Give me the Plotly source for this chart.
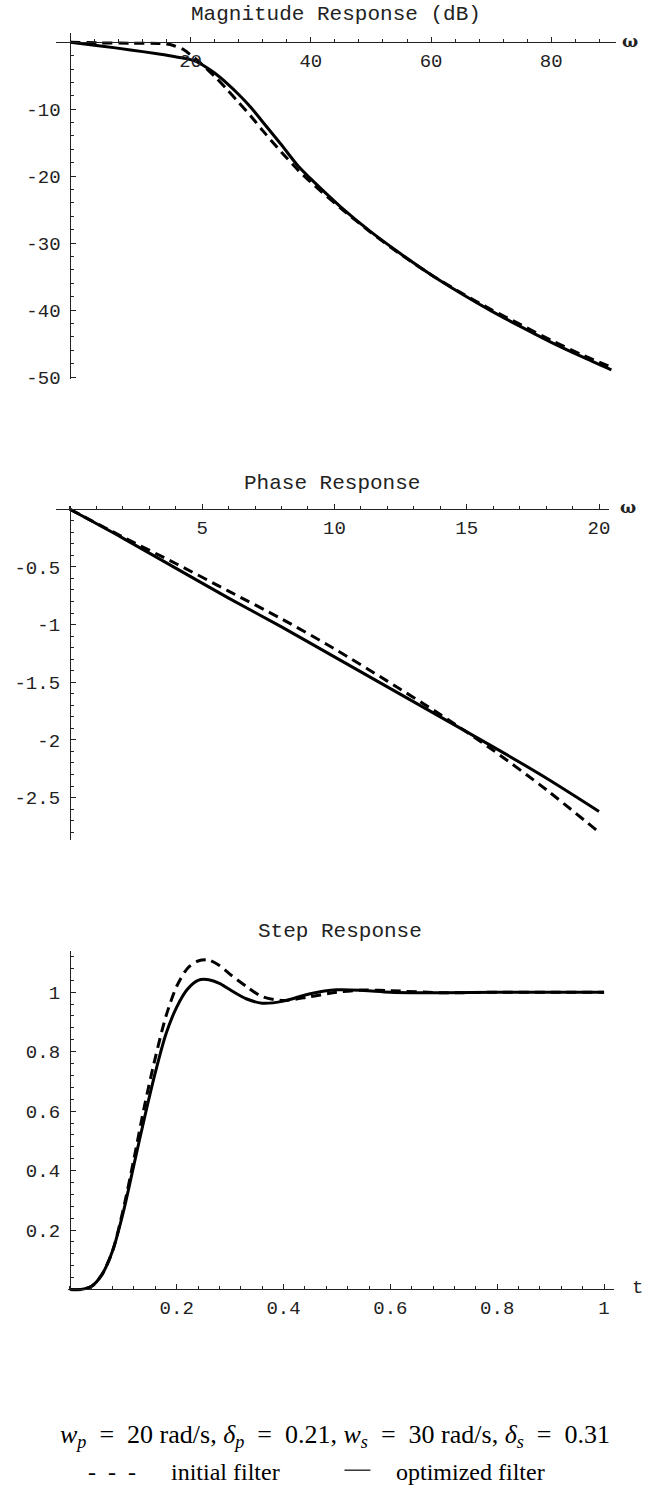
import plotly.graph_objects as go

# ---------------- data ----------------
mag_w = [0, 5, 10, 15, 17, 19, 20, 21, 22, 24, 26, 28, 30, 32, 35, 38, 40, 45, 50, 55, 60, 65, 70, 75, 80, 85, 90]
mag_opt = [0, -0.55, -1.15, -1.8, -2.1, -2.4, -2.6, -2.9, -3.4, -4.6, -6.1, -7.8, -9.7, -11.9, -15.2, -18.6,
           -20.4, -24.6, -28.3, -31.6, -34.7, -37.5, -40.1, -42.5, -44.8, -46.9, -48.9]
mag_init = [0, -0.1, -0.15, -0.2, -0.45, -1.2, -1.9, -2.6, -3.4, -5.1, -7.0, -9.0, -11.0, -13.2, -16.3, -19.2,
            -20.9, -24.8, -28.4, -31.7, -34.7, -37.4, -39.9, -42.2, -44.5, -46.6, -48.5]

ph_w = [0, 2, 4, 6, 8, 10, 12, 14, 16, 18, 20]
ph_opt = [0, -0.25, -0.51, -0.77, -1.02, -1.28, -1.54, -1.80, -2.06, -2.33, -2.62]
ph_init = [0, -0.24, -0.47, -0.71, -0.95, -1.21, -1.49, -1.78, -2.09, -2.43, -2.80]

st_t = [0, 0.02, 0.04, 0.06, 0.08, 0.10, 0.12, 0.14, 0.16, 0.18, 0.20, 0.22, 0.24, 0.26, 0.28, 0.30,
        0.33, 0.36, 0.40, 0.45, 0.50, 0.55, 0.60, 0.70, 0.80, 0.90, 1.0]
st_opt = [0, 0.0, 0.01, 0.05, 0.13, 0.26, 0.42, 0.58, 0.73, 0.86, 0.95, 1.01, 1.04, 1.042, 1.03, 1.008,
          0.978, 0.963, 0.97, 0.995, 1.008, 1.006, 1.0, 0.998, 1.0, 1.0, 1.0]
st_init = [0, 0.0, 0.01, 0.05, 0.13, 0.27, 0.44, 0.62, 0.78, 0.92, 1.02, 1.08, 1.105, 1.108, 1.09, 1.06,
           1.02, 0.985, 0.972, 0.985, 1.0, 1.007, 1.005, 0.998, 1.0, 1.0, 1.0]

mag_xticks = [20, 40, 60, 80]
mag_xtext = ["20", "40", "60", "80"]
mag_yticks = [-10, -20, -30, -40, -50]
mag_ytext = ["-10", "-20", "-30", "-40", "-50"]
ph_xticks = [5, 10, 15, 20]
ph_xtext = ["5", "10", "15", "20"]
ph_yticks = [-0.5, -1, -1.5, -2, -2.5]
ph_ytext = ["-0.5", "-1", "-1.5", "-2", "-2.5"]
st_xticks = [0.2, 0.4, 0.6, 0.8, 1.0]
st_xtext = ["0.2", "0.4", "0.6", "0.8", "1"]
st_yticks = [0.2, 0.4, 0.6, 0.8, 1.0]
st_ytext = ["0.2", "0.4", "0.6", "0.8", "1"]

titles = ["Magnitude Response (dB)", "Phase Response", "Step Response"]
EQ = "\u2002=\u2002"
formula = ("<i>w</i><sub><i>p</i></sub>" + EQ + "20 rad/s, <i>δ</i><sub><i>p</i></sub>" + EQ + "0.21, "
           "<i>w</i><sub><i>s</i></sub>" + EQ + "30 rad/s, <i>δ</i><sub><i>s</i></sub>" + EQ + "0.31")
legend_init = "initial filter"
legend_opt = "optimized filter"

# ---------------- layout helpers (pixel geometry) ----------------
W, H = 651, 1504
MONO = "Liberation Mono, Courier New, monospace"
SERIF = "Liberation Serif, Times New Roman, serif"
INK = "#222"


def px_x(p):
    return p / W


def px_y(p):
    return 1 - p / H


def xaxis(dom_px, rng, pos_px, tv, tt, minor_dt):
    return dict(domain=[px_x(dom_px[0]), px_x(dom_px[1])], range=rng, anchor="free",
                position=px_y(pos_px), showline=True, linecolor=INK, linewidth=1,
                ticks="inside", ticklen=5, tickwidth=1, tickcolor=INK,
                tickvals=tv, ticktext=tt, showgrid=False, zeroline=False,
                tickfont=dict(family=MONO, size=19, color=INK), ticklabelstandoff=1,
                minor=dict(tickmode="linear", tick0=0, dtick=minor_dt, ticks="inside",
                           ticklen=3, tickwidth=1, tickcolor=INK, showgrid=False))


def yaxis(dom_px, rng, pos_px, tv, tt, minor_dt):
    return dict(domain=[px_y(dom_px[1]), px_y(dom_px[0])], range=rng, anchor="free",
                position=px_x(pos_px), showline=True, linecolor=INK, linewidth=1,
                ticks="inside", ticklen=5, tickwidth=1, tickcolor=INK,
                tickvals=tv, ticktext=tt, showgrid=False, zeroline=False,
                tickfont=dict(family=MONO, size=19, color=INK), ticklabelstandoff=6,
                minor=dict(tickmode="linear", tick0=0, dtick=minor_dt, ticks="inside",
                           ticklen=3, tickwidth=1, tickcolor=INK, showgrid=False))


fig = go.Figure()

LW = 3
DASH = "10px,6px"

for xs, ys, dash, xa, ya in [
    (mag_w, mag_init, DASH, "x", "y"), (mag_w, mag_opt, "solid", "x", "y"),
    (ph_w, ph_init, DASH, "x2", "y2"), (ph_w, ph_opt, "solid", "x2", "y2"),
    (st_t, st_init, DASH, "x3", "y3"), (st_t, st_opt, "solid", "x3", "y3"),
]:
    fig.add_trace(go.Scatter(x=xs, y=ys, mode="lines", xaxis=xa, yaxis=ya, showlegend=False,
                             hoverinfo="skip",
                             line=dict(color="black", width=LW, dash=dash, shape="spline",
                                       smoothing=0.8)))

fig.update_layout(
    width=W, height=H, margin=dict(l=0, r=0, t=0, b=0), autosize=False,
    paper_bgcolor="white", plot_bgcolor="white", showlegend=False,
    xaxis=xaxis((56, 617), [-2.41, 90.78], 42.5, mag_xticks, mag_xtext, 4),
    yaxis=yaxis((33, 382), [-50.3, 1.41], 70.5, mag_yticks, mag_ytext, 2),
    xaxis2=xaxis((56, 610), [-0.528, 20.38], 513, ph_xticks, ph_xtext, 1),
    yaxis2=yaxis((510, 846), [-2.866, 0.026], 70.0, ph_yticks, ph_ytext, 0.1),
    xaxis3=xaxis((68, 615), [-0.0037, 1.0187], 1299, st_xticks, st_xtext, 0.04),
    yaxis3=yaxis((958, 1301), [-0.0067, 1.1386], 70.0, st_yticks, st_ytext, 0.04),
)

ann = []
for t, cx, cy in zip(titles, [337, 333, 341], [15, 487, 938]):
    ann.append(dict(text=t, x=px_x(cx), y=px_y(cy), xref="paper", yref="paper", showarrow=False,
                    xanchor="center", yanchor="middle", font=dict(family=MONO, size=21, color=INK)))
for t, cx, cy, fam, sz in [("<b>ω</b>", 631, 41, "DejaVu Serif", 17), ("<b>ω</b>", 629, 511, "DejaVu Serif", 17),
                           ("t", 638, 1297, MONO, 19)]:
    ann.append(dict(text=t, x=px_x(cx), y=px_y(cy), xref="paper", yref="paper", showarrow=False,
                    xanchor="center", yanchor="middle", font=dict(family=fam, size=sz, color=INK)))

ann.append(dict(text=formula, x=px_x(336), y=px_y(1447), xref="paper", yref="paper", showarrow=False,
                xanchor="center", yanchor="middle", font=dict(family=SERIF, size=26, color="black")))
for t, cx, anchor in [("-\u2002-\u2002-", 112, "center"), (legend_init, 169, "left"),
                      (legend_opt, 395, "left")]:
    ann.append(dict(text=t, x=px_x(cx), y=px_y(1483), xref="paper", yref="paper", showarrow=False,
                    xanchor=anchor, yanchor="middle", font=dict(family=SERIF, size=24, color="black")))
fig.update_layout(annotations=ann)

# short solid sample line of the legend row
fig.add_shape(type="line", xref="paper", yref="paper", x0=px_x(345), x1=px_x(371),
              y0=px_y(1481), y1=px_y(1481), line=dict(color="black", width=1.2))

fig.write_html("out.html", config={"displayModeBar": False, "staticPlot": True},
               post_script="document.body.style.margin='0px';")
